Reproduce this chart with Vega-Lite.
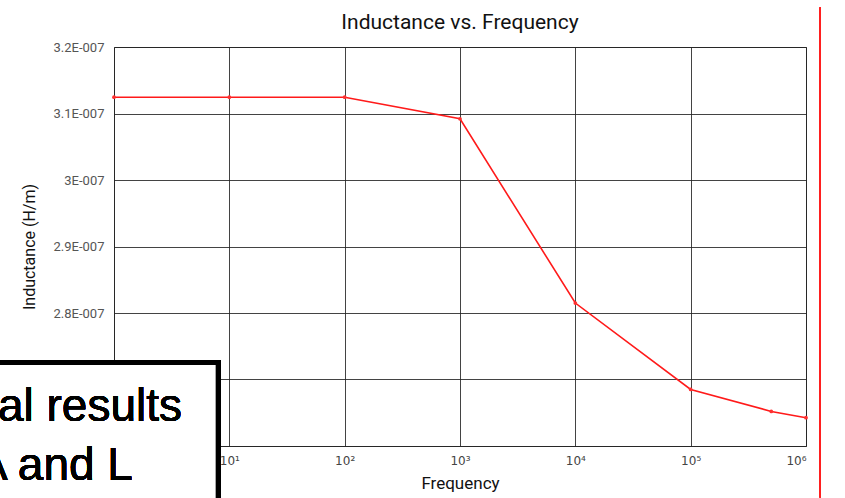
{
  "$schema": "https://vega.github.io/schema/vega-lite/v6.json",
  "autosize": "none",
  "width": 692,
  "height": 399,
  "padding": {"left": 114, "top": 47, "right": 39, "bottom": 52},
  "background": "white",
  "config": {
    "view": {"stroke": "#444", "strokeWidth": 1},
    "font": "Roboto"
  },
  "title": {
    "text": "Inductance vs. Frequency",
    "font": "Roboto",
    "fontSize": 21,
    "fontWeight": "normal",
    "color": "#111",
    "frame": "group",
    "offset": -26
  },
  "data": {
    "values": [
      {"frequency": 1, "inductance": 3.1245e-7},
      {"frequency": 10, "inductance": 3.1245e-7},
      {"frequency": 100, "inductance": 3.1245e-7},
      {"frequency": 1000, "inductance": 3.092e-7},
      {"frequency": 10000, "inductance": 2.815e-7},
      {"frequency": 100000, "inductance": 2.685e-7},
      {"frequency": 500000, "inductance": 2.652e-7},
      {"frequency": 1000000, "inductance": 2.6425e-7}
    ]
  },
  "layer": [
    {
      "mark": {"type": "line", "color": "#ff1a1a", "strokeWidth": 1.6, "point": {"filled": true, "size": 14, "color": "#ff3030"}},
      "encoding": {
        "x": {
          "field": "frequency", "type": "quantitative",
          "scale": {"type": "log", "domain": [1, 1000000], "nice": false},
          "axis": {
            "title": "Frequency",
            "titleFont": "Roboto", "titleFontSize": 17, "titleFontWeight": "normal", "titleColor": "#111",
            "titlePadding": 9,
            "values": [1, 10, 100, 1000, 10000, 100000, 1000000],
            "labelExpr": "'10' + ['⁰','¹','²','³','⁴','⁵','⁶'][round(log(datum.value)/LN10)]",
            "labelFont": "DejaVu Sans", "labelFontSize": 12, "labelColor": "#444",
            "labelPadding": 9,
            "ticks": false, "domain": false,
            "grid": true, "gridColor": "#222", "gridOpacity": 0.85, "gridWidth": 1
          }
        },
        "y": {
          "field": "inductance", "type": "quantitative",
          "scale": {"domain": [2.6e-7, 3.2e-7], "nice": false, "zero": false},
          "axis": {
            "title": "Inductance (H/m)",
            "titleFont": "Roboto", "titleFontSize": 16, "titleFontWeight": "normal", "titleColor": "#111",
            "titlePadding": 16,
            "values": [2.6e-7, 2.7e-7, 2.8e-7, 2.9e-7, 3.0e-7, 3.1e-7, 3.2e-7],
            "labelExpr": "format(datum.value * 1e7, '.2~f') + 'E-007'",
            "labelFont": "Roboto", "labelFontSize": 13, "labelColor": "#555",
            "labelPadding": 10,
            "ticks": false, "domain": false,
            "grid": true, "gridColor": "#222", "gridOpacity": 0.85, "gridWidth": 1
          }
        }
      }
    },
    {
      "mark": {"type": "rect", "fill": "white", "stroke": "black", "strokeWidth": 5, "clip": false},
      "encoding": {
        "x": {"datum": 0.05},
        "x2": {"datum": 8},
        "y": {"datum": 2.7256e-7},
        "y2": {"datum": 2.5e-7}
      }
    },
    {
      "mark": {"type": "text", "font": "Liberation Sans", "fontSize": 46, "align": "right", "baseline": "alphabetic", "color": "black", "clip": false},
      "encoding": {
        "x": {"datum": 3.89},
        "y": {"datum": 2.6373e-7},
        "text": {"value": "al results"}
      }
    },
    {
      "mark": {"type": "text", "font": "Liberation Sans", "fontSize": 46, "align": "right", "baseline": "alphabetic", "color": "black", "clip": false},
      "encoding": {
        "x": {"datum": 1.46},
        "y": {"datum": 2.5496e-7},
        "text": {"value": "A and L"}
      }
    },
    {
      "mark": {"type": "rule", "color": "#ff2020", "strokeWidth": 1.5, "clip": false},
      "encoding": {
        "x": {"datum": 1327000},
        "y": {"datum": 3.2594e-7},
        "y2": {"datum": 2.5226e-7}
      }
    }
  ]
}
